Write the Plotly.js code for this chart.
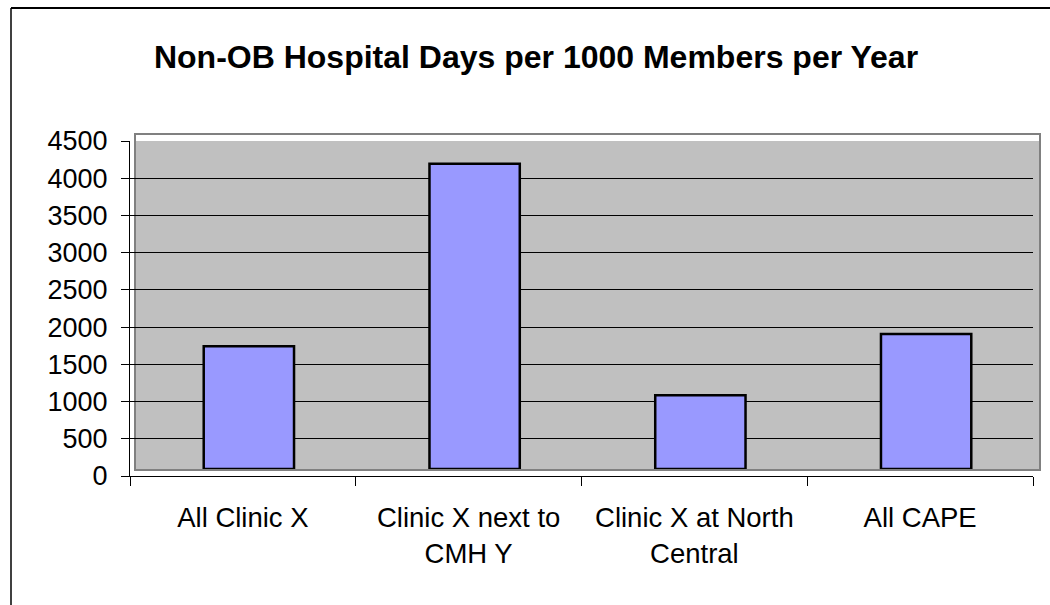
<!DOCTYPE html>
<html>
<head>
<meta charset="utf-8">
<script src="https://cdn.plot.ly/plotly-3.0.1.min.js"></script>
<style>
  html, body { margin: 0; padding: 0; background: #ffffff; }
  #chart { width: 1050px; height: 605px; }
</style>
</head>
<body>
<div id="chart"></div>
<script>
// ---- data ----
const categories = ['All Clinic X', 'Clinic X next to<br>CMH Y', 'Clinic X at North<br>Central', 'All CAPE'];
const values = [1650, 4100, 990, 1815];
const yTickVals = [0, 500, 1000, 1500, 2000, 2500, 3000, 3500, 4000, 4500];
const chartTitle = 'Non-OB Hospital Days per 1000 Members per Year';

// ---- geometry helpers (pixels -> paper) ----
const W = 1050, H = 605;
const M = { l: 130, r: 11, t: 134, b: 129 };
const PW = W - M.l - M.r, PH = H - M.t - M.b;
const px = x => (x - M.l) / PW;
const py = y => (H - M.b - y) / PH;

const FONT = 'Liberation Sans, Arial, sans-serif';

const traces = [
  { // invisible anchor trace establishing the category axis
    type: 'scatter', mode: 'markers', x: categories, y: values,
    xaxis: 'x', yaxis: 'y', marker: { opacity: 0 }, hoverinfo: 'skip', showlegend: false
  },
  {
    type: 'bar', x: categories, y: values, xaxis: 'x2', yaxis: 'y2',
    width: 0.4,
    marker: { color: '#9999FF', line: { color: '#000000', width: 2.5 } },
    showlegend: false
  }
];

const layout = {
  width: W, height: H,
  margin: M,
  paper_bgcolor: '#ffffff',
  plot_bgcolor: 'rgba(0,0,0,0)',
  showlegend: false,
  font: { family: FONT, color: '#000' },
  title: {
    text: '<b>' + chartTitle + '</b>',
    font: { family: FONT, size: 32, color: '#000' },
    xref: 'container', yref: 'container',
    x: 536 / W, xanchor: 'center',
    y: 1 - 57 / H, yanchor: 'middle'
  },
  xaxis: {
    domain: [0, px(1033)],
    type: 'category', range: [-0.5, 3.5],
    showline: true, linecolor: '#000', linewidth: 1,
    ticks: 'outside', tickson: 'boundaries', ticklen: 9, tickcolor: '#000', tickwidth: 1,
    showgrid: false, zeroline: false,
    tickfont: { family: FONT, size: 27.5, color: '#000' },
    ticklabelstandoff: 17,
    fixedrange: true
  },
  yaxis: {
    domain: [0, py(141)],
    range: [0, 4500], tickvals: yTickVals,
    showline: true, linecolor: '#000', linewidth: 1,
    ticks: 'outside', ticklen: 8, tickcolor: '#000', tickwidth: 1,
    showgrid: true, gridcolor: '#000', gridwidth: 1, zeroline: false,
    tickfont: { family: FONT, size: 27, color: '#000' },
    ticklabelstandoff: 8,
    fixedrange: true
  },
  xaxis2: {
    domain: [px(136), px(1039)], anchor: 'y2',
    type: 'category', range: [-0.5, 3.5], visible: false, fixedrange: true
  },
  yaxis2: {
    domain: [py(469), py(134)], anchor: 'x2',
    range: [0, 4500], visible: false, fixedrange: true
  },
  shapes: [
    // plot-area fill
    { type: 'rect', xref: 'paper', yref: 'paper', layer: 'below',
      x0: px(136), x1: px(1039), y0: py(469), y1: py(141),
      fillcolor: '#C0C0C0', line: { width: 0 } },
    // plot-area border
    { type: 'rect', xref: 'paper', yref: 'paper', layer: 'below',
      x0: px(135), x1: px(1040), y0: py(470), y1: py(134),
      fillcolor: 'rgba(0,0,0,0)', line: { color: '#808080', width: 2 } },
    // outer chart border (top and left)
    { type: 'line', xref: 'paper', yref: 'paper', layer: 'above',
      x0: px(11), x1: px(1050), y0: py(8), y1: py(8),
      line: { color: '#000', width: 2 } },
    { type: 'line', xref: 'paper', yref: 'paper', layer: 'above',
      x0: px(11), x1: px(11), y0: py(8), y1: py(605),
      line: { color: '#000', width: 1.5 } }
  ]
};

Plotly.newPlot('chart', traces, layout, { staticPlot: true, displayModeBar: false });
</script>
</body>
</html>
